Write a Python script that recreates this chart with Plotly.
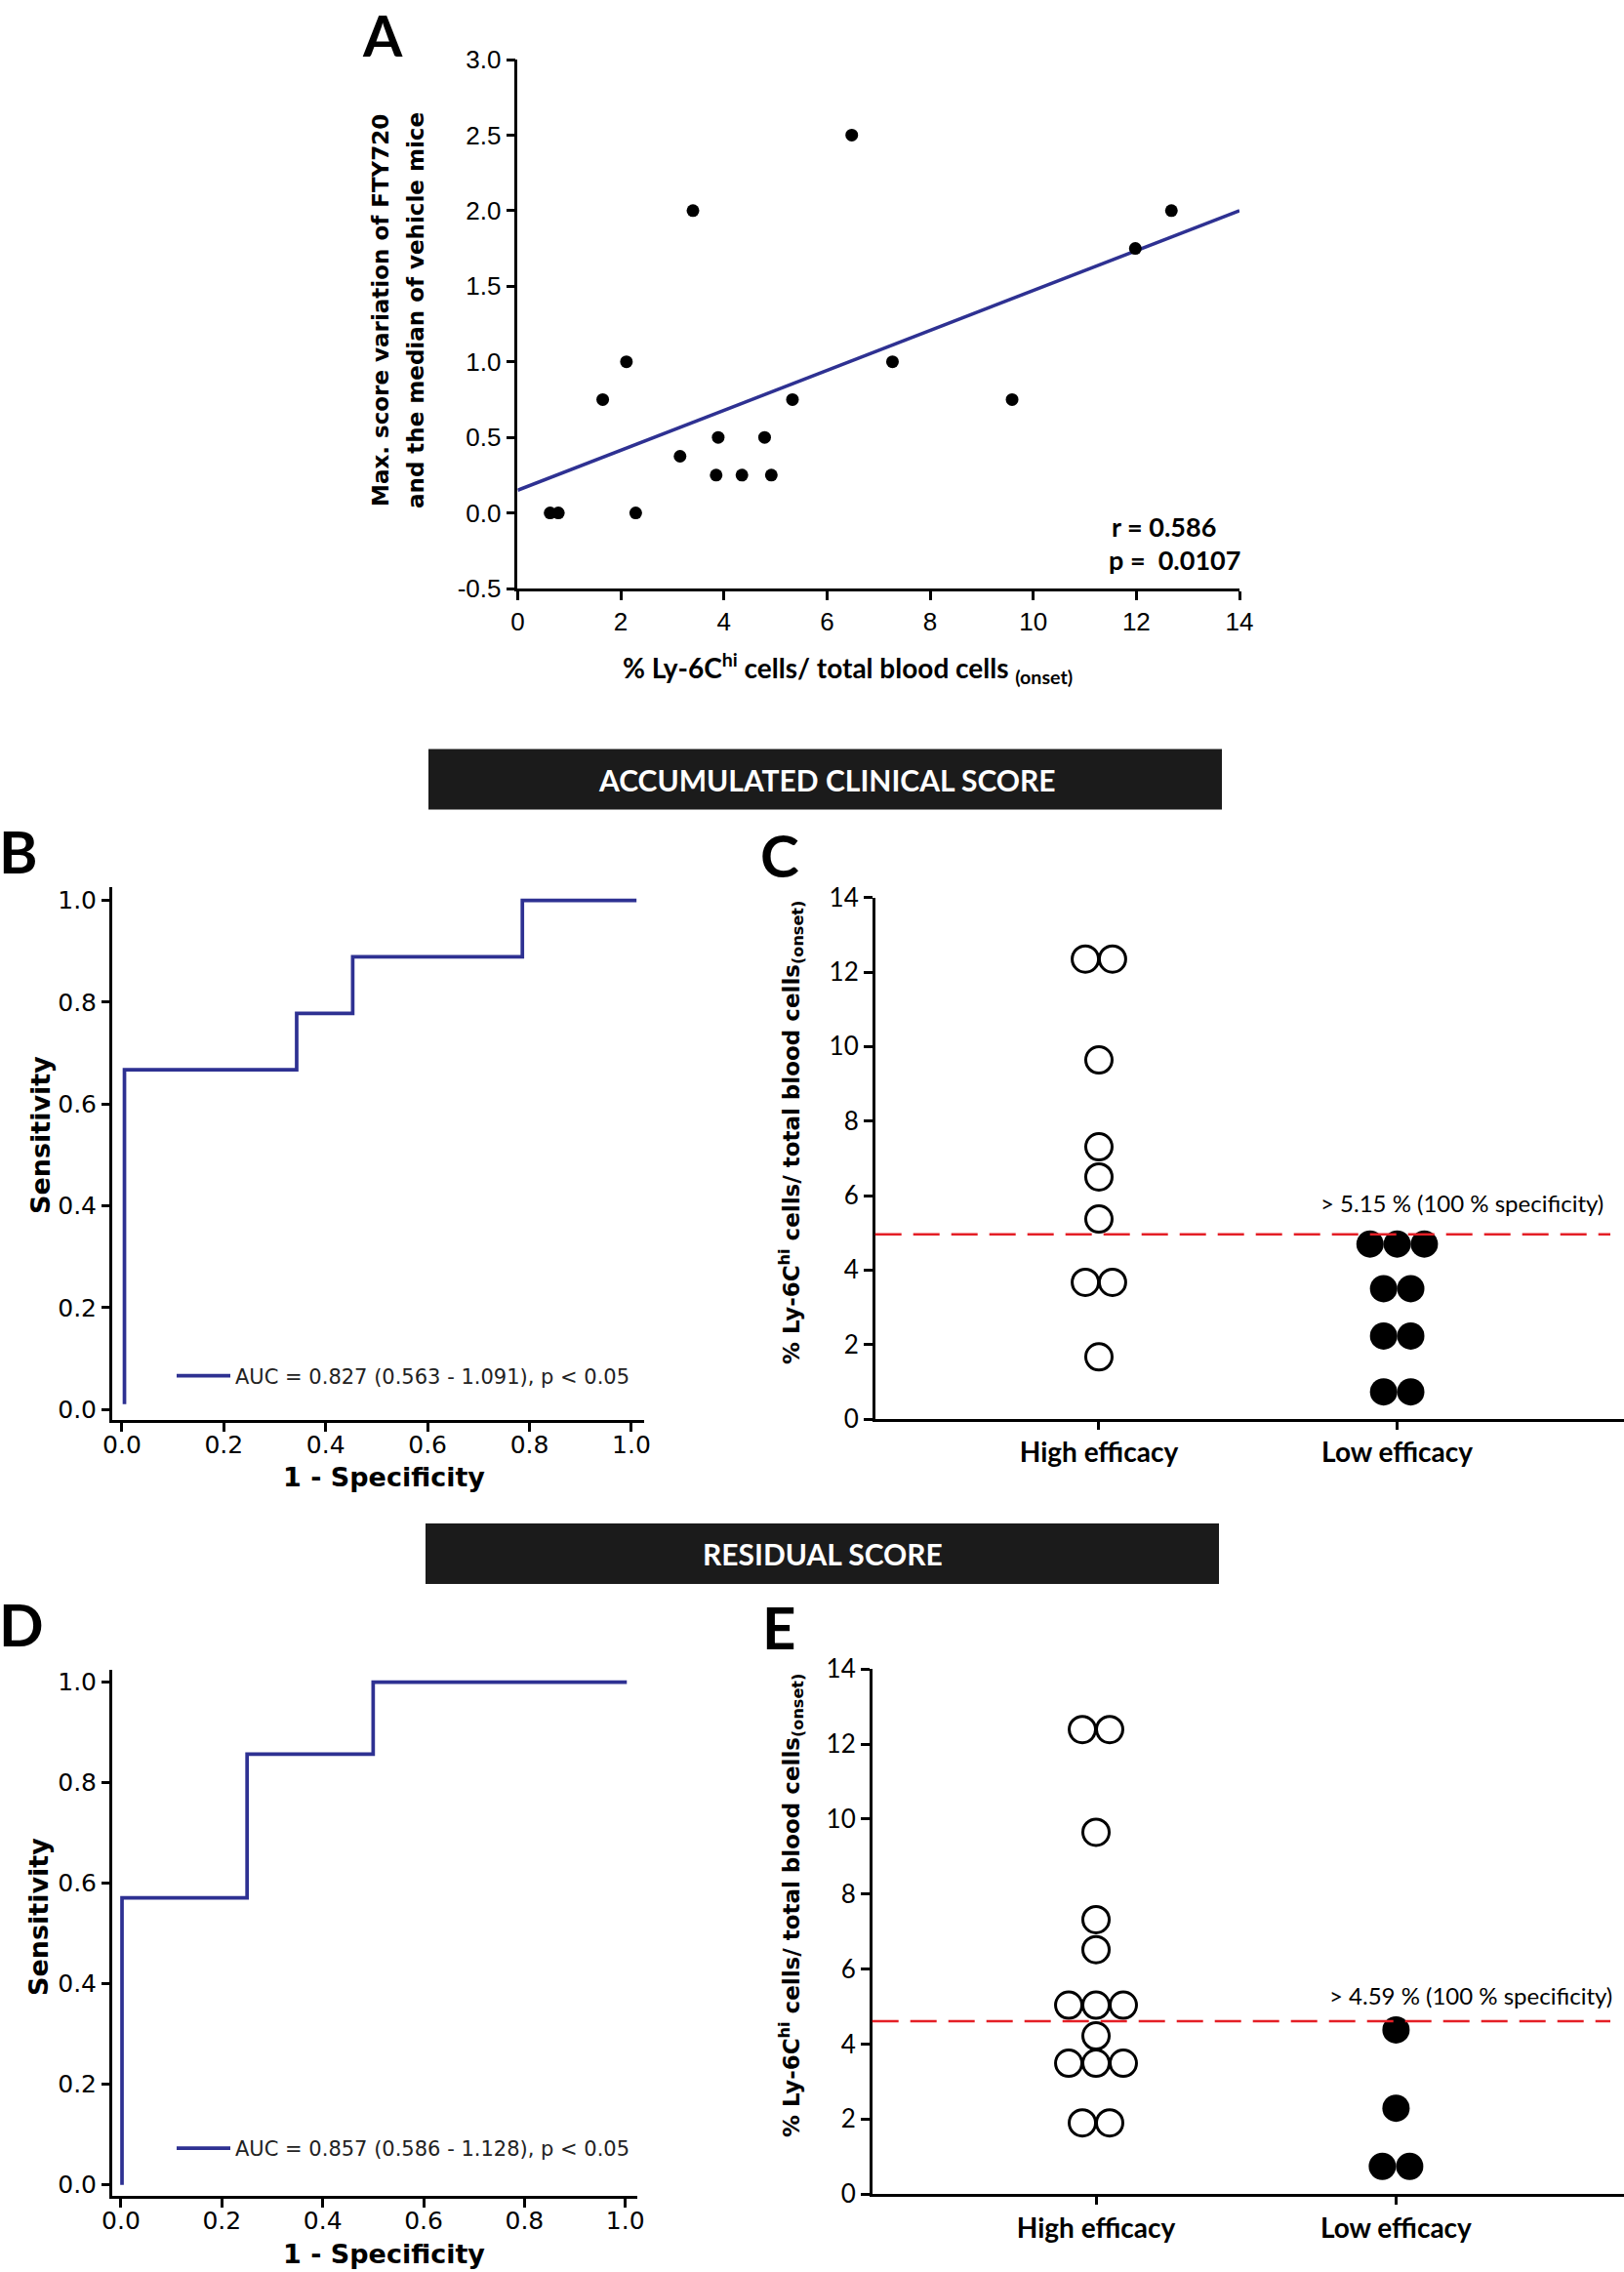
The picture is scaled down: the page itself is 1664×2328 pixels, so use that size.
import plotly.graph_objects as go

W, H = 1664, 2328

# ---------------- data ----------------
# Panel A: scatter + regression
a_x = [0.63, 0.79, 2.29, 1.65, 2.11, 3.15, 3.40, 3.85, 3.89, 4.35, 4.79, 4.92,
       5.33, 6.48, 7.27, 9.59, 11.98, 12.68]
a_y = [0, 0, 0, 0.75, 1.0, 0.375, 2.0, 0.25, 0.5, 0.25, 0.5, 0.25,
       0.75, 2.5, 1.0, 0.75, 1.75, 2.0]
a_fit_x = [0, 14]
a_fit_y = [0.15, 2.0]
a_xticks = [0, 2, 4, 6, 8, 10, 12, 14]
a_yticks = [-0.5, 0.0, 0.5, 1.0, 1.5, 2.0, 2.5, 3.0]
a_yticklabels = ["-0.5", "0.0", "0.5", "1.0", "1.5", "2.0", "2.5", "3.0"]
a_stats = ["r = 0.586", "p =  0.0107"]

# Panel B / D: ROC curves (step vertices)
b_fpr = [0.005, 0.005, 0.343, 0.453, 0.786, 1.01]
b_tpr = [0.01, 0.667, 0.778, 0.889, 1.0, 1.0]
b_label = "AUC = 0.827 (0.563 - 1.091), p < 0.05"
d_fpr = [0.002, 0.002, 0.25, 0.50, 1.003]
d_tpr = [0.0, 0.571, 0.857, 1.0, 1.0]
d_label = "AUC = 0.857 (0.586 - 1.128), p < 0.05"
roc_ticks = [0.0, 0.2, 0.4, 0.6, 0.8, 1.0]

# Panel C / E: column scatter
groups = ["High efficacy", "Low efficacy"]
c_high = [12.35, 12.35, 9.64, 7.31, 6.50, 5.37, 3.67, 3.67, 1.67]
c_low = [4.70, 4.70, 4.70, 3.50, 3.50, 2.23, 2.23, 0.73, 0.73]
c_cut = 4.96
c_cut_text = "> 5.15 % (100 % specificity)"
e_high = [12.39, 12.39, 9.65, 7.32, 6.52, 5.04, 5.04, 5.04, 4.22, 3.49, 3.49, 3.49, 1.90, 1.90]
e_low = [4.38, 2.29, 0.74, 0.74]
e_cut = 4.61
e_cut_text = "> 4.59 % (100 % specificity)"
col_yticks = [0, 2, 4, 6, 8, 10, 12, 14]

headers = ["ACCUMULATED CLINICAL SCORE", "RESIDUAL SCORE"]
panel_letters = ["A", "B", "C", "D", "E"]

# ---------------- helpers ----------------
def px(x):
    return x / W

def py(y):
    return 1 - y / H

def swarm(vals, center, step):
    counts = {}
    for v in vals:
        counts[v] = counts.get(v, 0) + 1
    seen = {}
    xs = []
    for v in vals:
        n = counts[v]
        i = seen.get(v, 0)
        seen[v] = i + 1
        xs.append(center + (i - (n - 1) / 2) * step)
    return xs

BLUE = "#2e3192"
RED = "#e41f26"
fig = go.Figure()

# Panel A
fig.add_trace(go.Scatter(x=a_fit_x, y=a_fit_y, mode="lines", line=dict(color=BLUE, width=3.5),
                         showlegend=False, xaxis="x", yaxis="y", cliponaxis=False))
fig.add_trace(go.Scatter(x=a_x, y=a_y, mode="markers", marker=dict(color="black", size=13),
                         showlegend=False, xaxis="x", yaxis="y", cliponaxis=False))

# Panel B
fig.add_trace(go.Scatter(x=b_fpr, y=b_tpr, mode="lines", line=dict(color=BLUE, width=3.7, shape="hv"),
                         name=b_label, showlegend=True, legend="legend", xaxis="x2", yaxis="y2",
                         cliponaxis=False))
# Panel D
fig.add_trace(go.Scatter(x=d_fpr, y=d_tpr, mode="lines", line=dict(color=BLUE, width=3.7, shape="hv"),
                         name=d_label, showlegend=True, legend="legend2", xaxis="x4", yaxis="y4",
                         cliponaxis=False))

STEP = 0.091
open_marker = dict(color="white", size=27, line=dict(color="black", width=3))
fill_marker = dict(color="black", size=28, line=dict(color="black", width=0))

fig.add_trace(go.Scatter(x=swarm(c_high, 1, STEP), y=c_high, mode="markers", marker=open_marker,
                         showlegend=False, xaxis="x3", yaxis="y3", cliponaxis=False))
fig.add_trace(go.Scatter(x=swarm(c_low, 2, STEP), y=c_low, mode="markers", marker=fill_marker,
                         showlegend=False, xaxis="x3", yaxis="y3", cliponaxis=False))
fig.add_trace(go.Scatter(x=swarm(e_high, 1, STEP), y=e_high, mode="markers", marker=open_marker,
                         showlegend=False, xaxis="x5", yaxis="y5", cliponaxis=False))
fig.add_trace(go.Scatter(x=swarm(e_low, 2, STEP), y=e_low, mode="markers", marker=fill_marker,
                         showlegend=False, xaxis="x5", yaxis="y5", cliponaxis=False))

# ---------------- axes ----------------
def ax_common(lw, font, size, ticklen, standoff=0):
    return dict(showline=True, linecolor="black", linewidth=lw, ticks="outside", ticklen=ticklen,
                tickwidth=lw, tickcolor="black", showgrid=False, zeroline=False, automargin=False,
                ticklabelstandoff=standoff,
                tickfont=dict(family=font, size=size, color="black"), fixedrange=True)

lay = dict(template="none", width=W, height=H, autosize=False,
           margin=dict(l=0, r=0, t=0, b=0, pad=0),
           paper_bgcolor="white", plot_bgcolor="white", showlegend=True)

# A
lay["xaxis"] = dict(domain=[px(530.4), px(1270)], range=[0, 14], tickvals=a_xticks, anchor="y",
                    **ax_common(2.5, "Liberation Sans", 26, 9))
lay["yaxis"] = dict(domain=[py(603), py(61)], range=[-0.5, 3.0], tickvals=a_yticks, ticktext=a_yticklabels,
                    anchor="x", **ax_common(2.5, "Liberation Sans", 26, 9))
# B
lay["xaxis2"] = dict(domain=[px(115), px(660)], range=[-0.019, 1.025], tickvals=roc_ticks, tickformat=".1f",
                     anchor="y2", **ax_common(3, "DejaVu Sans", 25, 9, -8))
lay["yaxis2"] = dict(domain=[py(1455), py(909)], range=[-0.021, 1.026], tickvals=roc_ticks, tickformat=".1f",
                     anchor="x2", **ax_common(3, "DejaVu Sans", 25, 8))
# D
lay["xaxis4"] = dict(domain=[px(115), px(652.6)], range=[-0.0174, 1.023], tickvals=roc_ticks, tickformat=".1f",
                     anchor="y4", **ax_common(3, "DejaVu Sans", 25, 9, -8))
lay["yaxis4"] = dict(domain=[py(2249.6), py(1711)], range=[-0.0212, 1.0247], tickvals=roc_ticks, tickformat=".1f",
                     anchor="x4", **ax_common(3, "DejaVu Sans", 25, 8))
# C
lay["xaxis3"] = dict(domain=[px(896.7), 1.0], range=[0.2497, 2.7605], tickvals=[1, 2], ticktext=groups,
                     anchor="y3", **ax_common(2.5, "Lato", 28, 8))
lay["xaxis3"]["tickfont"]["weight"] = "bold"
lay["yaxis3"] = dict(domain=[py(1454), py(919.7)], range=[0, 14], tickvals=col_yticks,
                     anchor="x3", **ax_common(2.5, "Lato", 26, 9))
# E
lay["xaxis5"] = dict(domain=[px(893.7), 1.0], range=[0.254, 2.76], tickvals=[1, 2], ticktext=groups,
                     anchor="y5", **ax_common(2.5, "Lato", 28, 8))
lay["xaxis5"]["tickfont"]["weight"] = "bold"
lay["yaxis5"] = dict(domain=[py(2248.2), py(1710.3)], range=[0, 14], tickvals=col_yticks,
                     anchor="x5", **ax_common(2.5, "Lato", 26, 9))

lay["legend"] = dict(x=px(176), y=py(1410), xanchor="left", yanchor="middle", bgcolor="rgba(0,0,0,0)",
                     itemwidth=55, font=dict(family="DejaVu Sans", size=21, color="#222"))
lay["legend2"] = dict(x=px(176), y=py(2201.5), xanchor="left", yanchor="middle", bgcolor="rgba(0,0,0,0)",
                      itemwidth=55, font=dict(family="DejaVu Sans", size=21, color="#222"))

fig.update_layout(**lay)

# ---------------- shapes ----------------
shapes = []
# header bars
shapes.append(dict(type="rect", xref="paper", yref="paper", x0=px(439), x1=px(1252), y0=py(829.6), y1=py(767.5),
                   fillcolor="#1b1b1b", line=dict(width=0)))
shapes.append(dict(type="rect", xref="paper", yref="paper", x0=px(436), x1=px(1249), y0=py(1623), y1=py(1561),
                   fillcolor="#1b1b1b", line=dict(width=0)))
# cut-off lines
shapes.append(dict(type="line", xref="x3 domain", yref="y3", x0=0, x1=(1650 - 896.7) / (W - 896.7), y0=c_cut, y1=c_cut,
                   line=dict(color=RED, width=2.5, dash="27px,12px")))
shapes.append(dict(type="line", xref="x5 domain", yref="y5", x0=0, x1=(1650 - 893.7) / (W - 893.7), y0=e_cut, y1=e_cut,
                   line=dict(color=RED, width=2.5, dash="27px,12px")))
fig.update_layout(shapes=shapes)

# ---------------- annotations ----------------
ann = []
def A(text, x, y, size, family, bold=False, color="black", angle=0, xanchor="center", yanchor="middle"):
    ann.append(dict(text=text, x=px(x), y=py(y), xref="paper", yref="paper", showarrow=False,
                    textangle=angle, xanchor=xanchor, yanchor=yanchor, borderpad=0,
                    font=dict(family=family, size=size, color=color, weight="bold" if bold else "normal")))

# panel letters
A(panel_letters[0], 392, 0, 58, "Lato", True, yanchor="top")
A(panel_letters[1], 19, 872, 60, "Lato", True)
A(panel_letters[2], 799, 876, 60, "Lato", True)
A(panel_letters[3], 22, 1664, 60, "Lato", True)
A(panel_letters[4], 798, 1667, 60, "Lato", True)

# headers
A(headers[0], 847, 799, 30, "Lato", True, color="white")
A(headers[1], 843, 1592, 30, "Lato", True, color="white")

# Panel A titles
A("Max. score variation of FTY720", 390, 318, 23, "DejaVu Sans", True, angle=-90)
A("and the median of vehicle mice", 426, 318, 23, "DejaVu Sans", True, angle=-90)
A("% Ly-6C<sup>hi</sup> cells/ total blood cells <sub>(onset)</sub>", 869, 684, 28, "Lato", True)
A(a_stats[0], 1138, 539, 27, "Lato", True, xanchor="left")
A(a_stats[1], 1135, 573, 27, "Lato", True, xanchor="left")

# ROC titles
A("Sensitivity", 41, 1163, 27, "DejaVu Sans", True, angle=-90)
A("1 - Specificity", 393, 1513, 27, "DejaVu Sans", True)
A("Sensitivity", 39, 1964, 27, "DejaVu Sans", True, angle=-90)
A("1 - Specificity", 393, 2309, 27, "DejaVu Sans", True)

# column titles
ytitle = "% Ly-6C<sup>hi</sup> cells/ total blood cells<sub>(onset)</sub>"
A(ytitle, 810, 1161, 23, "DejaVu Sans", True, angle=-90)
A(ytitle, 810, 1953, 23, "DejaVu Sans", True, angle=-90)

A(c_cut_text, 1352, 1232, 24, "Lato", xanchor="left")
A(e_cut_text, 1361, 2044, 24, "Lato", xanchor="left")

fig.update_layout(annotations=ann)

fig.write_html("out.html", config={"displayModeBar": False},
               post_script="document.body.style.margin='0px';document.body.style.overflow='hidden';")
